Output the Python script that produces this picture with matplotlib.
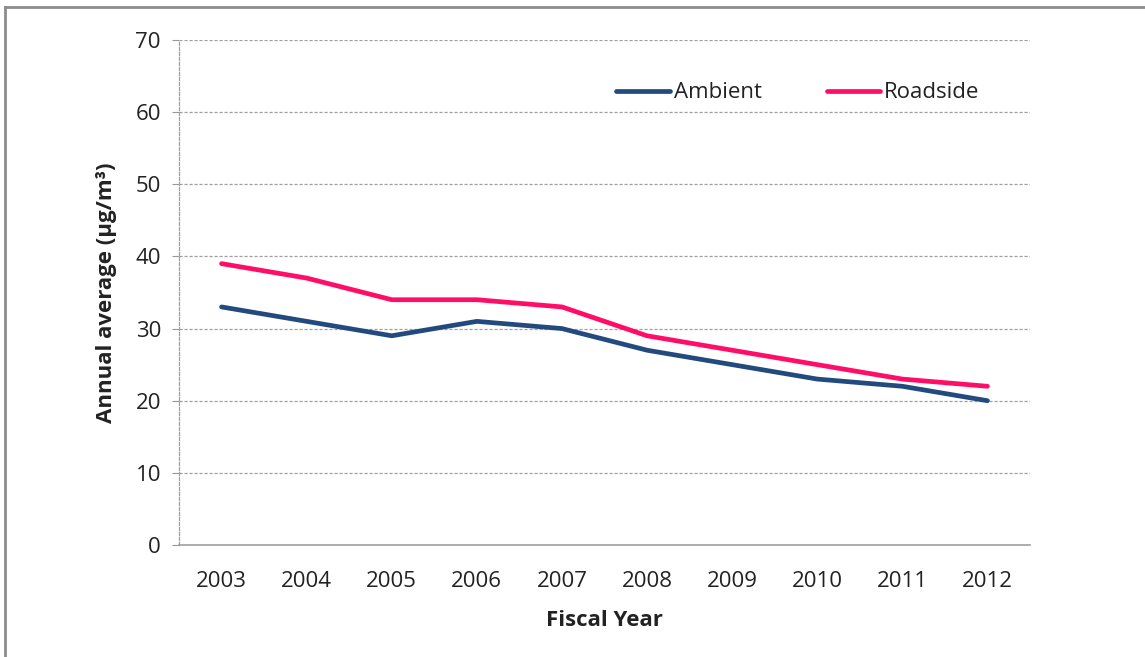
import matplotlib
matplotlib.use("Agg")
import matplotlib.pyplot as plt
from matplotlib.lines import Line2D

years = ["2003", "2004", "2005", "2006", "2007", "2008", "2009", "2010", "2011", "2012"]
ambient = [33, 31, 29, 31, 30, 27, 25, 23, 22, 20]
roadside = [39, 37, 34, 34, 33, 29, 27, 25, 23, 22]
yticks = [0, 10, 20, 30, 40, 50, 60, 70]

plt.rcParams['font.family'] = ['Open Sans', 'DejaVu Sans']

fig = plt.figure(figsize=(11.45, 6.57), dpi=100)
ax = fig.add_axes([179/1145, 1-545/657, (1030-179)/1145, (545-40)/657])

x = list(range(len(years)))
ax.plot(x, ambient, color="#234A7E", lw=3.4, solid_capstyle="round", label="Ambient")
ax.plot(x, roadside, color="#FF0D66", lw=3.4, solid_capstyle="round", label="Roadside")

ax.set_xlim(-0.5, len(years) - 0.5)
ax.set_ylim(0, 70)
ax.set_yticks(yticks)
ax.set_xticks(x)
ax.set_xticklabels(years)
ax.tick_params(axis='x', length=0, pad=19, labelsize=16, colors="#222222")
ax.tick_params(axis='y', length=5, width=0.8, color="#999999", pad=8, labelsize=16, labelcolor="#222222")

for v in yticks[1:]:
    ax.axhline(v, color="#A0A0A0", lw=0.9, ls=(0, (2.5, 1.5)), zorder=0)

for s in ["top", "right"]:
    ax.spines[s].set_visible(False)
ax.spines["left"].set_color("#A0A0A0")
ax.spines["left"].set_linestyle((0, (2.5, 1.5)))
ax.spines["left"].set_linewidth(0.9)
ax.spines["bottom"].set_color("#A0A0A0")
ax.spines["bottom"].set_linewidth(1.2)

ax.set_xlabel("Fiscal Year", fontsize=16, fontweight="bold", labelpad=13, color="#222222")
ax.set_ylabel("Annual average (µg/m³)", fontsize=16, fontweight="bold", labelpad=13, color="#222222")

leg = ax.legend(loc="center", bbox_to_anchor=(798/1145, 1-93/657), bbox_transform=fig.transFigure,
                ncol=2, frameon=False, fontsize=16, handlelength=2.4, handletextpad=0.2,
                columnspacing=2.9)
for t in leg.get_texts():
    t.set_color("#222222")

# outer border (top and left edges)
fig.add_artist(Line2D([5/1145, 5/1145], [0, 1-7/657], transform=fig.transFigure, color="#8C8C8C", lw=2))
fig.add_artist(Line2D([5/1145, 1], [1-7/657, 1-7/657], transform=fig.transFigure, color="#8C8C8C", lw=2))

fig.savefig("out.png", dpi=100)
